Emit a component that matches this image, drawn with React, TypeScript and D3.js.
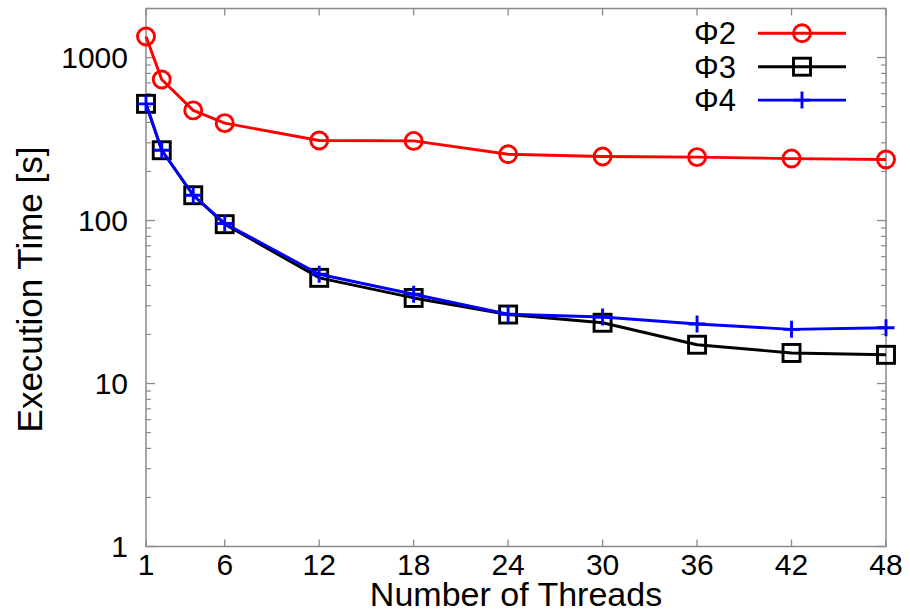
import React from "react";
import * as d3 from "d3";

const threads = [1, 2, 4, 6, 12, 18, 24, 30, 36, 42, 48];
const phi2 = [1346, 734, 474, 396, 310, 308, 255, 247, 245, 240, 237];
const phi3 = [520, 270, 143, 95, 44.5, 33.5, 26.5, 23.6, 17.3, 15.4, 15.0];
const phi4 = [520, 270, 143, 96, 46.8, 35.3, 26.6, 25.6, 23.2, 21.5, 22.0];
const xTicks = [1, 6, 12, 18, 24, 30, 36, 42, 48];
const yTicks = [1, 10, 100, 1000];
const seriesNames = ["Φ2", "Φ3", "Φ4"];
const seriesColors = ["#ff0000", "#000000", "#0000ff"];
const seriesMarkers = ["circle", "square", "plus"];

const W = 910;
const H = 612;
const L = 146, R = 886, T = 8.5, B = 546.5;
const FONT = "'Liberation Sans', Arial, Helvetica, sans-serif";
const SW = 2.9;

function Marker({ kind, x, y, color }: { kind: string; x: number; y: number; color: string }) {
  if (kind === "circle") return <circle cx={x} cy={y} r={8.5} fill="none" stroke={color} strokeWidth={SW} />;
  if (kind === "square") return <rect x={x - 8.5} y={y - 8.5} width={17} height={17} fill="none" stroke={color} strokeWidth={SW} />;
  return (
    <path d={`M${x - 8.5},${y}H${x + 8.5}M${x},${y - 8.5}V${y + 8.5}`} stroke={color} strokeWidth={SW} fill="none" />
  );
}

export default function App() {
  const x = d3.scaleLinear().domain([1, 48]).range([L, R]);
  const y = d3.scaleLog().domain([1, 2000]).range([B, T]);
  const data = [phi2, phi3, phi4];
  const line = d3.line<[number, number]>().x((d) => x(d[0])).y((d) => y(d[1]));

  const minor: number[] = [];
  for (const dec of [1, 10, 100, 1000]) {
    for (let k = 2; k <= 9; k++) {
      const v = dec * k;
      if (v <= 2000) minor.push(v);
    }
  }
  const axisColor = "#8a8a8a";

  return (
    <svg width={W} height={H} style={{ display: "block", position: "absolute", left: 0, top: 0 }} fontFamily={FONT}>
      <rect width={W} height={H} fill="#fff" />
      {yTicks.map((v) => (
        <g key={"y" + v}>
          <line x1={L} x2={L + 9} y1={y(v)} y2={y(v)} stroke={axisColor} strokeWidth={1.3} />
          <line x1={R} x2={R - 9} y1={y(v)} y2={y(v)} stroke={axisColor} strokeWidth={1.3} />
          <text x={L - 18} y={y(v)} dy="0.36em" textAnchor="end" fontSize={30} fill="#000">
            {v}
          </text>
        </g>
      ))}
      {minor.map((v) => (
        <g key={"m" + v}>
          <line x1={L} x2={L + 5} y1={y(v)} y2={y(v)} stroke={axisColor} strokeWidth={1.2} />
          <line x1={R} x2={R - 5} y1={y(v)} y2={y(v)} stroke={axisColor} strokeWidth={1.2} />
        </g>
      ))}
      {xTicks.map((v) => (
        <g key={"x" + v}>
          <line x1={x(v)} x2={x(v)} y1={B} y2={B - 7} stroke={axisColor} strokeWidth={1.3} />
          <line x1={x(v)} x2={x(v)} y1={T} y2={T + 7} stroke={axisColor} strokeWidth={1.3} />
          <text x={x(v)} y={575} textAnchor="middle" fontSize={30} fill="#000">
            {v}
          </text>
        </g>
      ))}
      <rect x={L} y={T} width={R - L} height={B - T} fill="none" stroke={axisColor} strokeWidth={1.5} />
      {data.map((vals, i) => (
        <g key={"s" + i}>
          <path
            d={line(threads.map((t, j) => [t, vals[j]] as [number, number])) || ""}
            fill="none"
            stroke={seriesColors[i]}
            strokeWidth={SW}
            strokeLinejoin="round"
          />
          {threads.map((t, j) => (
            <Marker key={j} kind={seriesMarkers[i]} x={x(t)} y={y(vals[j])} color={seriesColors[i]} />
          ))}
        </g>
      ))}
      {seriesNames.map((n, i) => {
        const ly = 33.3 + i * 33.4;
        return (
          <g key={"l" + i}>
            <text x={736} y={ly} dy="0.36em" textAnchor="end" fontSize={31} fill="#000">
              {n}
            </text>
            <line x1={758} x2={846} y1={ly} y2={ly} stroke={seriesColors[i]} strokeWidth={SW} />
            <Marker kind={seriesMarkers[i]} x={802} y={ly} color={seriesColors[i]} />
          </g>
        );
      })}
      <text x={516} y={606} textAnchor="middle" fontSize={34} fill="#000">
        Number of Threads
      </text>
      <text transform={`translate(42,${(T + B) / 2 + 12}) rotate(-90)`} textAnchor="middle" fontSize={35} fill="#000">
        Execution Time [s]
      </text>
    </svg>
  );
}
